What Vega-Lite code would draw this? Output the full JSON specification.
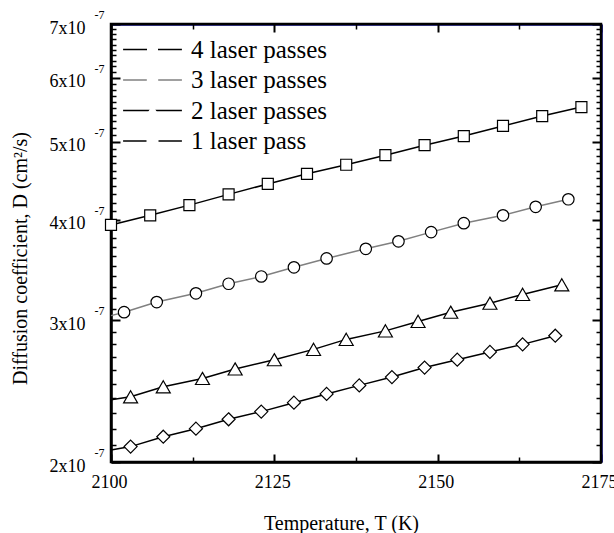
{
  "$schema": "https://vega.github.io/schema/vega-lite/v6.json",
  "autosize": "none",
  "width": 490,
  "height": 438,
  "padding": {"left": 111, "top": 24, "right": 13, "bottom": 71},
  "background": "white",
  "config": {
    "font": "Liberation Serif",
    "view": {"stroke": null},
    "axis": {
      "labelFont": "Liberation Serif",
      "titleFont": "Liberation Serif",
      "labelColor": "black",
      "titleColor": "black",
      "titleFontWeight": "normal",
      "grid": false,
      "domain": false
    },
    "legend": {"labelFont": "Liberation Serif"}
  },
  "datasets": {
    "markers": [
      {"series": "4 laser passes", "T": 2100, "D": 3.94e-7},
      {"series": "4 laser passes", "T": 2106, "D": 4.05e-7},
      {"series": "4 laser passes", "T": 2112, "D": 4.17e-7},
      {"series": "4 laser passes", "T": 2118, "D": 4.30e-7},
      {"series": "4 laser passes", "T": 2124, "D": 4.43e-7},
      {"series": "4 laser passes", "T": 2130, "D": 4.56e-7},
      {"series": "4 laser passes", "T": 2136, "D": 4.68e-7},
      {"series": "4 laser passes", "T": 2142, "D": 4.81e-7},
      {"series": "4 laser passes", "T": 2148, "D": 4.95e-7},
      {"series": "4 laser passes", "T": 2154, "D": 5.08e-7},
      {"series": "4 laser passes", "T": 2160, "D": 5.23e-7},
      {"series": "4 laser passes", "T": 2166, "D": 5.38e-7},
      {"series": "4 laser passes", "T": 2172, "D": 5.52e-7},
      {"series": "3 laser passes", "T": 2102, "D": 3.07e-7},
      {"series": "3 laser passes", "T": 2107, "D": 3.16e-7},
      {"series": "3 laser passes", "T": 2113, "D": 3.24e-7},
      {"series": "3 laser passes", "T": 2118, "D": 3.33e-7},
      {"series": "3 laser passes", "T": 2123, "D": 3.40e-7},
      {"series": "3 laser passes", "T": 2128, "D": 3.49e-7},
      {"series": "3 laser passes", "T": 2133, "D": 3.58e-7},
      {"series": "3 laser passes", "T": 2139, "D": 3.68e-7},
      {"series": "3 laser passes", "T": 2144, "D": 3.76e-7},
      {"series": "3 laser passes", "T": 2149, "D": 3.86e-7},
      {"series": "3 laser passes", "T": 2154, "D": 3.96e-7},
      {"series": "3 laser passes", "T": 2160, "D": 4.05e-7},
      {"series": "3 laser passes", "T": 2165, "D": 4.15e-7},
      {"series": "3 laser passes", "T": 2170, "D": 4.24e-7},
      {"series": "2 laser passes", "T": 2103, "D": 2.41e-7},
      {"series": "2 laser passes", "T": 2108, "D": 2.48e-7},
      {"series": "2 laser passes", "T": 2114, "D": 2.54e-7},
      {"series": "2 laser passes", "T": 2119, "D": 2.61e-7},
      {"series": "2 laser passes", "T": 2125, "D": 2.68e-7},
      {"series": "2 laser passes", "T": 2131, "D": 2.76e-7},
      {"series": "2 laser passes", "T": 2136, "D": 2.84e-7},
      {"series": "2 laser passes", "T": 2142, "D": 2.91e-7},
      {"series": "2 laser passes", "T": 2147, "D": 2.99e-7},
      {"series": "2 laser passes", "T": 2152, "D": 3.07e-7},
      {"series": "2 laser passes", "T": 2158, "D": 3.15e-7},
      {"series": "2 laser passes", "T": 2163, "D": 3.23e-7},
      {"series": "2 laser passes", "T": 2169, "D": 3.32e-7},
      {"series": "1 laser pass", "T": 2103, "D": 2.09e-7},
      {"series": "1 laser pass", "T": 2108, "D": 2.15e-7},
      {"series": "1 laser pass", "T": 2113, "D": 2.20e-7},
      {"series": "1 laser pass", "T": 2118, "D": 2.26e-7},
      {"series": "1 laser pass", "T": 2123, "D": 2.31e-7},
      {"series": "1 laser pass", "T": 2128, "D": 2.37e-7},
      {"series": "1 laser pass", "T": 2133, "D": 2.43e-7},
      {"series": "1 laser pass", "T": 2138, "D": 2.49e-7},
      {"series": "1 laser pass", "T": 2143, "D": 2.55e-7},
      {"series": "1 laser pass", "T": 2148, "D": 2.62e-7},
      {"series": "1 laser pass", "T": 2153, "D": 2.68e-7},
      {"series": "1 laser pass", "T": 2158, "D": 2.74e-7},
      {"series": "1 laser pass", "T": 2163, "D": 2.80e-7},
      {"series": "1 laser pass", "T": 2168, "D": 2.87e-7}
    ],
    "curves": [
      {"series": "4 laser passes", "T": 2100, "D": 3.94e-7},
      {"series": "4 laser passes", "T": 2106, "D": 4.05e-7},
      {"series": "4 laser passes", "T": 2112, "D": 4.17e-7},
      {"series": "4 laser passes", "T": 2118, "D": 4.30e-7},
      {"series": "4 laser passes", "T": 2124, "D": 4.43e-7},
      {"series": "4 laser passes", "T": 2130, "D": 4.56e-7},
      {"series": "4 laser passes", "T": 2136, "D": 4.68e-7},
      {"series": "4 laser passes", "T": 2142, "D": 4.81e-7},
      {"series": "4 laser passes", "T": 2148, "D": 4.95e-7},
      {"series": "4 laser passes", "T": 2154, "D": 5.08e-7},
      {"series": "4 laser passes", "T": 2160, "D": 5.23e-7},
      {"series": "4 laser passes", "T": 2166, "D": 5.38e-7},
      {"series": "4 laser passes", "T": 2172, "D": 5.52e-7},
      {"series": "3 laser passes", "T": 2100, "D": 3.04e-7},
      {"series": "3 laser passes", "T": 2102, "D": 3.07e-7},
      {"series": "3 laser passes", "T": 2107, "D": 3.16e-7},
      {"series": "3 laser passes", "T": 2113, "D": 3.24e-7},
      {"series": "3 laser passes", "T": 2118, "D": 3.33e-7},
      {"series": "3 laser passes", "T": 2123, "D": 3.40e-7},
      {"series": "3 laser passes", "T": 2128, "D": 3.49e-7},
      {"series": "3 laser passes", "T": 2133, "D": 3.58e-7},
      {"series": "3 laser passes", "T": 2139, "D": 3.68e-7},
      {"series": "3 laser passes", "T": 2144, "D": 3.76e-7},
      {"series": "3 laser passes", "T": 2149, "D": 3.86e-7},
      {"series": "3 laser passes", "T": 2154, "D": 3.96e-7},
      {"series": "3 laser passes", "T": 2160, "D": 4.05e-7},
      {"series": "3 laser passes", "T": 2165, "D": 4.15e-7},
      {"series": "3 laser passes", "T": 2170, "D": 4.24e-7},
      {"series": "2 laser passes", "T": 2100, "D": 2.39e-7},
      {"series": "2 laser passes", "T": 2103, "D": 2.41e-7},
      {"series": "2 laser passes", "T": 2108, "D": 2.48e-7},
      {"series": "2 laser passes", "T": 2114, "D": 2.54e-7},
      {"series": "2 laser passes", "T": 2119, "D": 2.61e-7},
      {"series": "2 laser passes", "T": 2125, "D": 2.68e-7},
      {"series": "2 laser passes", "T": 2131, "D": 2.76e-7},
      {"series": "2 laser passes", "T": 2136, "D": 2.84e-7},
      {"series": "2 laser passes", "T": 2142, "D": 2.91e-7},
      {"series": "2 laser passes", "T": 2147, "D": 2.99e-7},
      {"series": "2 laser passes", "T": 2152, "D": 3.07e-7},
      {"series": "2 laser passes", "T": 2158, "D": 3.15e-7},
      {"series": "2 laser passes", "T": 2163, "D": 3.23e-7},
      {"series": "2 laser passes", "T": 2169, "D": 3.32e-7},
      {"series": "1 laser pass", "T": 2100, "D": 2.07e-7},
      {"series": "1 laser pass", "T": 2103, "D": 2.09e-7},
      {"series": "1 laser pass", "T": 2108, "D": 2.15e-7},
      {"series": "1 laser pass", "T": 2113, "D": 2.20e-7},
      {"series": "1 laser pass", "T": 2118, "D": 2.26e-7},
      {"series": "1 laser pass", "T": 2123, "D": 2.31e-7},
      {"series": "1 laser pass", "T": 2128, "D": 2.37e-7},
      {"series": "1 laser pass", "T": 2133, "D": 2.43e-7},
      {"series": "1 laser pass", "T": 2138, "D": 2.49e-7},
      {"series": "1 laser pass", "T": 2143, "D": 2.55e-7},
      {"series": "1 laser pass", "T": 2148, "D": 2.62e-7},
      {"series": "1 laser pass", "T": 2153, "D": 2.68e-7},
      {"series": "1 laser pass", "T": 2158, "D": 2.74e-7},
      {"series": "1 laser pass", "T": 2163, "D": 2.80e-7},
      {"series": "1 laser pass", "T": 2168, "D": 2.87e-7}
    ]
  },
  "resolve": {
    "axis": {"x": "independent", "y": "independent"}
  },
  "layer": [
    {
      "data": {"values": [{"edge": "frame"}]},
      "mark": {"type": "rect", "fill": "white", "fillOpacity": 0, "stroke": "black", "strokeWidth": 2.5},
      "encoding": {
        "x": {"datum": 2100, "type": "quantitative", "scale": {"domain": [2100, 2175], "nice": false, "zero": false}, "axis": null},
        "x2": {"datum": 2175},
        "y": {"datum": 2e-7, "type": "quantitative", "scale": {"type": "log", "domain": [2e-7, 7e-7], "nice": false, "zero": false}, "axis": null},
        "y2": {"datum": 7e-7}
      }
    },
    {
      "data": {"name": "curves"},
      "mark": {"type": "line", "strokeWidth": 1.5},
      "encoding": {
        "x": {
          "field": "T", "type": "quantitative",
          "scale": {"domain": [2100, 2175], "nice": false, "zero": false},
          "axis": {
            "orient": "bottom",
            "values": [2100, 2125, 2150, 2175],
            "format": "d",
            "domain": true,
            "domainColor": "black",
            "domainWidth": 2.5,
            "ticks": false,
            "labelFontSize": 18,
            "labelPadding": 11,
            "labelOffset": -2,
            "labelFlush": false,
            "title": "Temperature, T (K)",
            "titleFontSize": 20,
            "titleX": 230,
            "titleY": 67,
            "titleBaseline": "alphabetic",
            "titleAlign": "center"
          }
        },
        "y": {
          "field": "D", "type": "quantitative",
          "scale": {"type": "log", "domain": [2e-7, 7e-7], "nice": false, "zero": false},
          "axis": {
            "orient": "left",
            "values": [2e-7, 3e-7, 4e-7, 5e-7, 6e-7, 7e-7],
            "labelExpr": "round(datum.value * 1e7) + 'x10'",
            "domain": true,
            "domainColor": "black",
            "domainWidth": 2.5,
            "ticks": false,
            "labelFontSize": 18,
            "labelPadding": 26,
            "labelOffset": 4,
            "labelFlush": false,
            "title": "Diffusion coefficient, D (cm²/s)",
            "titleFontSize": 20,
            "titleX": -91,
            "titleY": 234,
            "titleBaseline": "middle",
            "titleAlign": "center",
            "titleAngle": -90
          }
        },
        "detail": {"field": "series", "type": "nominal"},
        "color": {
          "field": "series", "type": "nominal",
          "sort": ["4 laser passes", "3 laser passes", "2 laser passes", "1 laser pass"],
          "scale": {"range": ["black", "gray", "black", "black"]},
          "legend": {
            "title": null,
            "orient": "none",
            "legendX": 5,
            "legendY": 13,
            "symbolType": "M-4.2,0H4.2",
            "symbolSize": 196,
            "symbolStrokeWidth": 1.5,
            "symbolOpacity": 1,
            "symbolOffset": 24,
            "labelOffset": 26,
            "labelFontSize": 25,
            "labelColor": "black",
            "labelLimit": 400,
            "rowPadding": 4.5,
            "zindex": 1
          }
        }
      }
    },
    {
      "data": {"name": "markers"},
      "mark": {"type": "point", "filled": false, "fill": "white", "stroke": "black", "strokeWidth": 1.2, "size": 196, "opacity": 1},
      "encoding": {
        "x": {
          "field": "T", "type": "quantitative",
          "axis": {"orient": "top", "domain": true, "domainColor": "navy", "domainWidth": 2.5, "ticks": false, "labels": false, "title": null}
        },
        "y": {
          "field": "D", "type": "quantitative",
          "axis": {"orient": "right", "domain": true, "domainColor": "navy", "domainWidth": 2.5, "ticks": false, "labels": false, "title": null}
        },
        "shape": {
          "field": "series", "type": "nominal",
          "scale": {
            "domain": ["4 laser passes", "3 laser passes", "2 laser passes", "1 laser pass"],
            "range": [
              "M-0.786,-0.786H0.786V0.786H-0.786Z",
              "M-0.82,0A0.82,0.82,0,1,0,0.82,0A0.82,0.82,0,1,0,-0.82,0Z",
              "M0,-0.87L1,0.87L-1,0.87Z",
              "M0,-0.93L0.93,0L0,0.93L-0.93,0Z"
            ]
          },
          "legend": {
            "title": null,
            "orient": "none",
            "legendX": 5,
            "legendY": 13,
            "symbolSize": 196,
            "symbolFillColor": "white",
            "symbolStrokeColor": "black",
            "symbolStrokeWidth": 1.2,
            "symbolOpacity": 1,
            "symbolOffset": 24,
            "labelOffset": 26,
            "labelFontSize": 25,
            "labelOpacity": 0,
            "labelLimit": 400,
            "rowPadding": 4.5,
            "zindex": 2
          }
        }
      }
    },
    {
      "data": {"name": "markers"},
      "transform": [{"filter": "false"}],
      "mark": {"type": "point", "opacity": 0},
      "encoding": {
        "x": {
          "field": "T", "type": "quantitative",
          "axis": {"orient": "bottom", "values": [2100, 2125, 2150, 2175], "labels": false, "tickSize": 8, "offset": -8, "tickWidth": 2, "tickColor": "black", "title": null}
        },
        "y": {
          "field": "D", "type": "quantitative",
          "axis": {"orient": "left", "values": [2e-7, 3e-7, 4e-7, 5e-7, 6e-7, 7e-7], "labels": false, "tickSize": 9, "offset": -9, "tickWidth": 2, "tickColor": "black", "title": null}
        }
      }
    },
    {
      "data": {"name": "markers"},
      "transform": [{"filter": "false"}],
      "mark": {"type": "point", "opacity": 0},
      "encoding": {
        "x": {
          "field": "T", "type": "quantitative",
          "axis": {"orient": "bottom", "values": [2112.5, 2137.5, 2162.5], "labels": false, "tickSize": 5, "offset": -5, "tickWidth": 1.5, "tickColor": "black", "title": null}
        },
        "y": {
          "field": "D", "type": "quantitative",
          "axis": {"orient": "left", "values": [2.1e-7, 2.2e-7, 2.3e-7, 2.4e-7, 2.5e-7, 2.6e-7, 2.7e-7, 2.8e-7, 2.9e-7, 3.1e-7, 3.2e-7, 3.3e-7, 3.4e-7, 3.5e-7, 3.6e-7, 3.7e-7, 3.8e-7, 3.9e-7, 4.1e-7, 4.2e-7, 4.3e-7, 4.4e-7, 4.5e-7, 4.6e-7, 4.7e-7, 4.8e-7, 4.9e-7, 5.1e-7, 5.2e-7, 5.3e-7, 5.4e-7, 5.5e-7, 5.6e-7, 5.7e-7, 5.8e-7, 5.9e-7, 6.1e-7, 6.2e-7, 6.3e-7, 6.4e-7, 6.5e-7, 6.6e-7, 6.7e-7, 6.8e-7, 6.9e-7], "labels": false, "tickSize": 5, "offset": -5, "tickWidth": 1.5, "tickColor": "black", "title": null}
        }
      }
    },
    {
      "data": {"name": "markers"},
      "transform": [{"filter": "false"}],
      "mark": {"type": "point", "opacity": 0},
      "encoding": {
        "x": {
          "field": "T", "type": "quantitative",
          "axis": {"orient": "top", "values": [2100, 2125, 2150, 2175], "labels": false, "tickSize": 8, "offset": -8, "tickWidth": 2, "tickColor": "black", "title": null}
        },
        "y": {
          "field": "D", "type": "quantitative",
          "axis": {"orient": "right", "values": [2e-7, 3e-7, 4e-7, 5e-7, 6e-7, 7e-7], "labels": false, "tickSize": 9, "offset": -9, "tickWidth": 2, "tickColor": "black", "title": null}
        }
      }
    },
    {
      "data": {"name": "markers"},
      "transform": [{"filter": "false"}],
      "mark": {"type": "point", "opacity": 0},
      "encoding": {
        "x": {
          "field": "T", "type": "quantitative",
          "axis": {"orient": "top", "values": [2112.5, 2137.5, 2162.5], "labels": false, "tickSize": 5, "offset": -5, "tickWidth": 1.5, "tickColor": "black", "title": null}
        },
        "y": {
          "field": "D", "type": "quantitative",
          "axis": {"orient": "right", "values": [2.1e-7, 2.2e-7, 2.3e-7, 2.4e-7, 2.5e-7, 2.6e-7, 2.7e-7, 2.8e-7, 2.9e-7, 3.1e-7, 3.2e-7, 3.3e-7, 3.4e-7, 3.5e-7, 3.6e-7, 3.7e-7, 3.8e-7, 3.9e-7, 4.1e-7, 4.2e-7, 4.3e-7, 4.4e-7, 4.5e-7, 4.6e-7, 4.7e-7, 4.8e-7, 4.9e-7, 5.1e-7, 5.2e-7, 5.3e-7, 5.4e-7, 5.5e-7, 5.6e-7, 5.7e-7, 5.8e-7, 5.9e-7, 6.1e-7, 6.2e-7, 6.3e-7, 6.4e-7, 6.5e-7, 6.6e-7, 6.7e-7, 6.8e-7, 6.9e-7], "labels": false, "tickSize": 5, "offset": -5, "tickWidth": 1.5, "tickColor": "black", "title": null}
        }
      }
    },
    {
      "data": {"name": "markers"},
      "transform": [{"filter": "false"}],
      "mark": {"type": "point", "opacity": 0},
      "encoding": {
        "x": {"field": "T", "type": "quantitative", "axis": null},
        "y": {
          "field": "D", "type": "quantitative",
          "axis": {
            "orient": "left",
            "values": [2e-7, 3e-7, 4e-7, 5e-7, 6e-7, 7e-7],
            "labelExpr": "'-7'",
            "ticks": false,
            "labelFontSize": 12,
            "labelPadding": 7,
            "labelOffset": -9.5,
            "labelFlush": false,
            "title": null
          }
        }
      }
    }
  ]
}
